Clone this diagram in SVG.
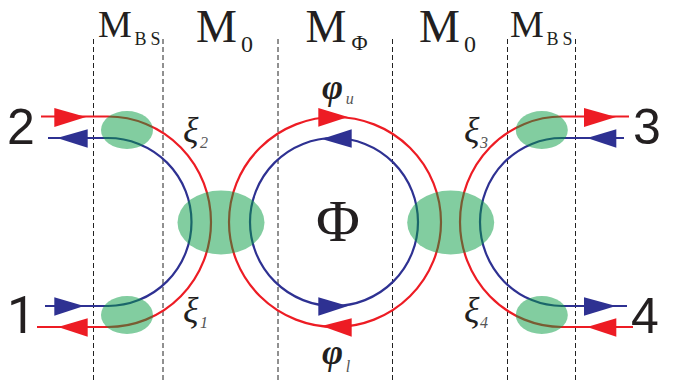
<svg xmlns="http://www.w3.org/2000/svg" width="673" height="383" viewBox="0 0 673 383">
<style>
.r{fill:none;stroke:#ed1c24;stroke-width:2.200}
.b{fill:none;stroke:#2e3192;stroke-width:2.200}
.rh{fill:#ed1c24}
.bh{fill:#2e3192}
.d{stroke:#222;stroke-width:1;stroke-dasharray:5 3;fill:none}
.e{fill:#069c42;fill-opacity:.5}
text{fill:#231f20}
.s{font-family:"Liberation Serif",serif}
.n{font-family:"Liberation Sans",sans-serif;font-size:50px}
.m{font-size:38px}
.mm{font-size:46px}
.sub{font-size:18px;letter-spacing:4px}
.z{font-size:24px}
.x{font-size:36px;font-style:italic}
.i{font-size:16px;font-style:italic;fill:#555}
.p{font-size:36px;font-style:italic;font-weight:bold}
</style>
<rect width="673" height="383" fill="#fff"/>
<g id="guides">
<path class="d" d="M93.5 39V383M163 39V383M278 39V383M392.5 39V383M507.5 39V383M575.5 39V383"/>
</g>
<g id="connectors">
<path class="r" d="M41 116.5H108A103 105.500 0 0 1 211 222A103 105 0 0 1 108 327H37"/>
<path class="b" d="M48 138H108A83.500 84 0 0 1 191.500 222A83.500 84 0 0 1 108 306H45"/>
<path class="r" d="M629 116.500H562A102 105.500 0 0 0 460 222A102 105 0 0 0 562 327H633"/>
<path class="b" d="M624 138H562A82 84 0 0 0 480 222A82 84 0 0 0 562 306H627"/>
<ellipse class="r" cx="335" cy="222" rx="106" ry="105"/>
<ellipse class="b" cx="334" cy="222" rx="84" ry="84"/>
<polygon class="rh" points="54.300,108 54.300,127 86,117"/>
<polygon class="bh" points="87.700,129.300 87.700,147.700 57,138"/>
<polygon class="bh" points="54.300,297.300 54.300,315.700 84,306"/>
<polygon class="rh" points="87.700,318.300 87.700,336.700 58,327"/>
<polygon class="rh" points="318.300,108 318.300,126.700 348,117"/>
<polygon class="bh" points="351.700,129.300 351.700,147.700 321.700,139"/>
<polygon class="bh" points="318.300,297.300 318.300,315.700 348,306"/>
<polygon class="rh" points="351.700,318.300 351.700,336.700 321.700,326"/>
<polygon class="rh" points="584,108 584,127 616,117"/>
<polygon class="bh" points="616.300,129.300 616.300,147.700 587,138"/>
<polygon class="bh" points="584,297.300 584,315.700 616,306"/>
<polygon class="rh" points="616.300,318.300 616.300,336.700 587,327"/>
</g>
<g id="node-bs-top-left"><ellipse class="e" cx="127" cy="130" rx="26" ry="19"/></g>
<g id="node-bs-bottom-left"><ellipse class="e" cx="127" cy="315" rx="26" ry="19"/></g>
<g id="node-center-left"><ellipse class="e" cx="221" cy="222.500" rx="43.500" ry="32"/></g>
<g id="node-center-right"><ellipse class="e" cx="450.700" cy="222.500" rx="43.500" ry="32"/></g>
<g id="node-bs-top-right"><ellipse class="e" cx="541.800" cy="130" rx="26" ry="19"/></g>
<g id="node-bs-bottom-right"><ellipse class="e" cx="541.800" cy="315" rx="26" ry="19"/></g>
<g id="labels">
<text class="s m" x="98" y="36.700">M</text><text class="s sub" x="134.500" y="45">BS</text>
<text class="s mm" x="196" y="41.700">M</text><text class="s z" x="241" y="51.700">0</text>
<text class="s mm" x="305.500" y="41.700">M</text><text class="s" font-size="22" x="351.500" y="50">Φ</text>
<text class="s mm" x="419" y="41.700">M</text><text class="s z" x="464" y="51.700">0</text>
<text class="s m" x="510" y="36.700">M</text><text class="s sub" x="546.500" y="45">BS</text>
<text class="n" x="7" y="144">2</text>
<text x="7" y="333" font-family="Roboto,sans-serif" font-size="51">1</text>
<text class="n" x="633" y="144">3</text>
<text class="n" x="631" y="333">4</text>
<text class="s x" x="183" y="141.500">ξ</text><text class="s i" x="200" y="147.700">2</text>
<text class="s x" x="183" y="321.500">ξ</text><text class="s i" x="200" y="328">1</text>
<text class="s x" x="464" y="141.500">ξ</text><text class="s i" x="480" y="147.700">3</text>
<text class="s x" x="464" y="321.500">ξ</text><text class="s i" x="480" y="328">4</text>
<text class="s p" x="322" y="99">φ</text><text class="s i" x="345.700" y="104">u</text>
<text class="s p" x="322" y="364">φ</text><text class="s i" x="345.700" y="371.700">l</text>
<text class="s" font-size="60" x="338" y="240.700" text-anchor="middle">Φ</text>
</g>
</svg>
